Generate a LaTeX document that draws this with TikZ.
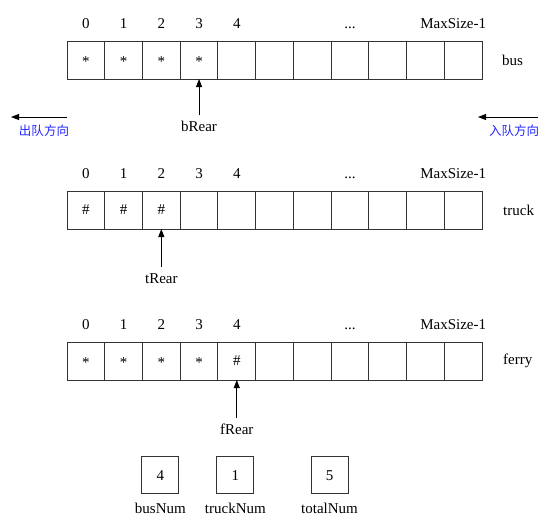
\documentclass[tikz,border=0pt]{standalone}
\usepackage{fontspec}
\setmainfont{Liberation Serif}
\newfontfamily\cjk{Noto Sans CJK SC}
\usepackage{xcolor}
\usepackage{tikz}
\usetikzlibrary{positioning, arrows.meta}

\begin{document}
\begin{tikzpicture}[
    x=1pt, y=-1pt,
    font=\fontsize{15pt}{18pt}\selectfont,
    cell/.style={
        rectangle,
        draw=black!80,
        line width=1pt,
        minimum width=37.7pt,
        minimum height=38pt,
        inner sep=0pt,
        outer sep=0pt
    },
    idx/.style={inner sep=0pt},
    qname/.style={inner sep=0pt, anchor=west},
    ptr/.style={inner xsep=0pt, inner ysep=6pt},
    dir/.style={inner sep=0pt, text=blue!85!white, font=\cjk\fontsize{12.5pt}{14pt}\selectfont},
    counter/.style={
        rectangle,
        draw=black!80,
        line width=1pt,
        minimum size=37pt,
        inner sep=0pt
    },
    cname/.style={inner sep=0pt},
    line/.style={draw, line width=0.9pt, -{Triangle[length=8pt, width=6pt]}}
]
\useasboundingbox (0,0) rectangle (554,531);

% three queues
\foreach \q/\y in {bus/60, truck/210, ferry/361} {
    \foreach \i in {0,...,10} {
        \node[cell] (\q\i) at ({67+37.73*(\i+0.5)},\y) {};
    }
    \foreach \i in {0,...,4} {
        \node[idx, above=12.5pt of \q\i] {\i};
    }
    \node[idx, above=12.5pt of \q7] {...};
    \node[idx, above=12.5pt of \q10, xshift=-10pt] {MaxSize-1};
}

% contents
\foreach \c in {bus0, bus1, bus2, bus3, ferry0, ferry1, ferry2, ferry3} {
    \node at ([yshift=-2pt]\c) {*};
}
\foreach \c in {truck0, truck1, truck2, ferry4} {
    \node at (\c) {\#};
}

\node[qname, right=20pt of bus10] (busname) {bus};
\node[qname, right=21pt of truck10] (truckname) {truck};
\node[qname, right=21pt of ferry10] (ferryname) {ferry};

% rear pointers
\node[ptr, below=36pt of bus3] (bRear) {bRear};
\node[ptr, below=38pt of truck2] (tRear) {tRear};
\node[ptr, below=38pt of ferry4] (fRear) {fRear};

\path [line] (bRear.north) -- (bus3.south);
\path [line] (tRear.north) -- (truck2.south);
\path [line] (fRear.north) -- (ferry4.south);

% directions
\coordinate (outS) at (67,117);
\coordinate (outE) at (11,117);
\coordinate (inS) at (538,117);
\coordinate (inE) at (478,117);
\node[dir] (outdir) at (44,131) {出队方向};
\node[dir] (indir) at (514,131) {入队方向};
\path [line] (outS) -- (outE);
\path [line] (inS) -- (inE);

% counters
\node[counter] (busNum) at (160.4,475.4) {4};
\node[counter] (truckNum) at (235.4,475.4) {1};
\node[counter] (totalNum) at (329.5,475.4) {5};
\node[cname, below=8pt of busNum] {busNum};
\node[cname, below=8pt of truckNum] {truckNum};
\node[cname, below=8pt of totalNum] {totalNum};

\end{tikzpicture}
\end{document}
